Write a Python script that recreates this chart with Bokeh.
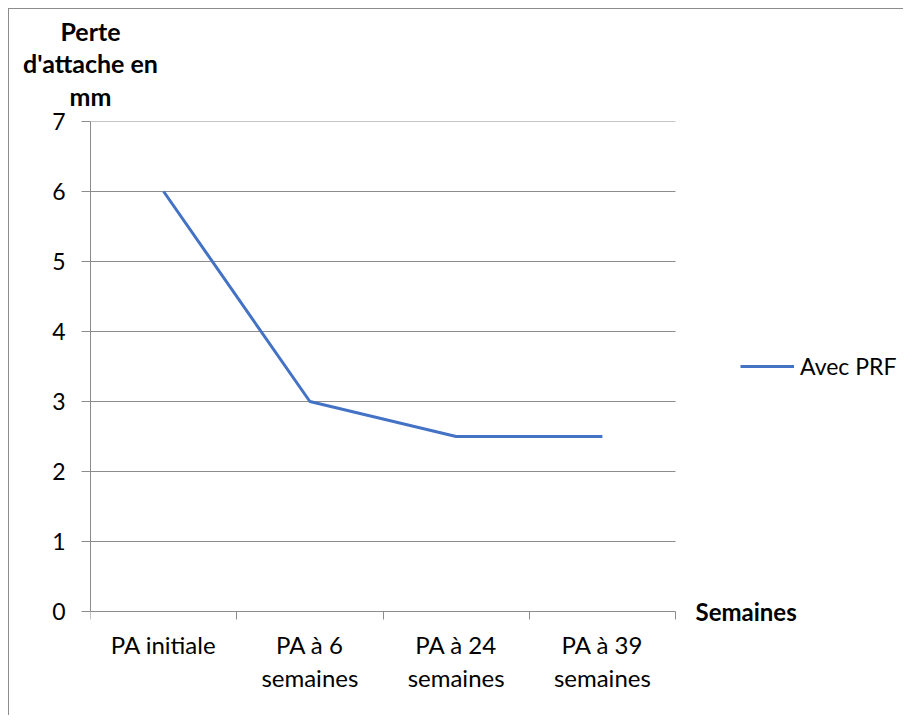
from bokeh.plotting import figure
from bokeh.models import Range1d, FixedTicker, Label, Legend, LegendItem, LinearAxis
from bokeh.embed import file_html
from bokeh.resources import INLINE

categories = ["PA initiale", "PA à 6\nsemaines", "PA à 24\nsemaines", "PA à 39\nsemaines"]
values = [6, 3, 2.5, 2.5]
y_ticks = [0, 1, 2, 3, 4, 5, 6, 7]
series_name = "Avec PRF"
y_title = "Perte\nd'attache en\nmm"
x_title = "Semaines"

FONT = "Lato"
GRID = "#8c8c8c"

n = len(categories)
xs = [i + 0.5 for i in range(n)]
y_max = y_ticks[-1]

# layout (pixels)
W, H = 895, 707
LEFT, TOP, BOTTOM = 81, 112, 5
CAT_PX = 146.25
UNIT_PX = 70.0
frame_w = W - LEFT
frame_h = H - TOP - BOTTOM
x_end = frame_w / CAT_PX
y_start = y_max - frame_h / UNIT_PX

p = figure(width=W, height=H, output_backend="svg", toolbar_location=None,
           x_range=Range1d(0, x_end), y_range=Range1d(y_start, y_max),
           min_border_left=LEFT, min_border_top=TOP, min_border_right=0, min_border_bottom=BOTTOM)
p.styles = {"margin-left": "8px", "margin-top": "8px",
            "border-left": "1px solid #8c8c8c", "border-top": "1px solid #8c8c8c"}
p.outline_line_color = None
p.background_fill_color = "white"
p.border_fill_color = "white"

# y axis
p.yaxis.ticker = FixedTicker(ticks=y_ticks, minor_ticks=[])
p.yaxis.bounds = (0, y_max)
p.yaxis.axis_line_color = GRID
p.yaxis.major_tick_line_color = GRID
p.yaxis.major_tick_out = 9
p.yaxis.major_tick_in = 0
p.yaxis.minor_tick_line_color = None
p.yaxis.major_label_text_font = FONT
p.yaxis.major_label_text_font_size = "23px"
p.yaxis.major_label_text_color = "black"
p.yaxis.major_label_standoff = 16

# x axis, fixed at y = 0
p.xaxis.fixed_location = 0
p.xaxis.ticker = FixedTicker(ticks=xs, minor_ticks=list(range(n + 1)))
p.xaxis.bounds = (0, n)
p.xaxis.major_label_overrides = {x: c for x, c in zip(xs, categories)}
p.xaxis.axis_line_color = GRID
p.xaxis.major_tick_line_color = None
p.xaxis.major_tick_out = 0
p.xaxis.major_tick_in = 0
p.xaxis.minor_tick_line_color = GRID
p.xaxis.minor_tick_out = 8
p.xaxis.minor_tick_in = 0
p.xaxis.major_label_text_font = FONT
p.xaxis.major_label_text_font_size = "24px"
p.xaxis.major_label_text_color = "black"
p.xaxis.major_label_text_line_height = 1.15
p.xaxis.major_label_standoff = 10

# y title as an axis label above the plot, centred on the y axis
top_axis = LinearAxis(ticker=FixedTicker(ticks=[0], minor_ticks=[]),
                      major_label_overrides={0: y_title})
top_axis.axis_line_color = None
top_axis.major_tick_line_color = None
top_axis.minor_tick_line_color = None
top_axis.major_tick_out = 0
top_axis.major_tick_in = 0
top_axis.major_label_text_font = FONT
top_axis.major_label_text_font_size = "25px"
top_axis.major_label_text_font_style = "bold"
top_axis.major_label_text_color = "black"
top_axis.major_label_text_line_height = 1.08
top_axis.major_label_standoff = 11
p.add_layout(top_axis, "above")

# grid lines (limited to the category span)
p.xgrid.visible = False
p.ygrid.visible = False
p.segment(x0=[0] * (len(y_ticks) - 1), x1=[n] * (len(y_ticks) - 1),
          y0=y_ticks[1:], y1=y_ticks[1:], line_color=GRID, line_width=1)

r = p.line(xs, values, line_color="#4472C4", line_width=3)

p.add_layout(Label(x=n + 20 / CAT_PX, y=0, text=x_title, text_font=FONT, text_font_size="24px",
                   text_font_style="bold", text_align="left", text_baseline="middle",
                   text_color="black"))

GLYPH_H = 22
legend_y_val = y_max - (369 - 121) / UNIT_PX   # vertical centre of the legend entry
legend = Legend(items=[LegendItem(label=series_name, renderers=[r])],
                location=(650, (legend_y_val - y_start) * UNIT_PX - GLYPH_H / 2),
                glyph_width=54, glyph_height=GLYPH_H, label_standoff=6,
                padding=0, margin=0, border_line_color=None, background_fill_alpha=0,
                label_text_font=FONT, label_text_font_size="23px", label_text_color="black")
p.add_layout(legend)

open("out.html", "w").write(file_html(p, INLINE))
